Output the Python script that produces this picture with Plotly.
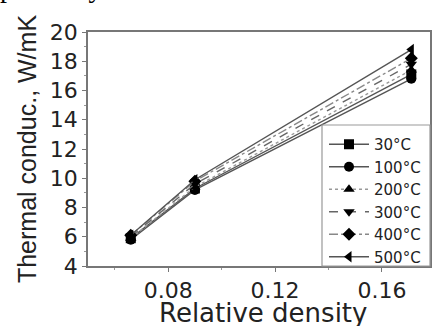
import plotly.graph_objects as go

# Relative density of the samples
density = [0.066, 0.090, 0.171]

# Thermal conductivity (W/mK) at each test temperature
temps = ["30°C", "100°C", "200°C", "300°C", "400°C", "500°C"]
k_30 = [5.9, 9.3, 17.1]
k_100 = [5.8, 9.2, 16.8]
k_200 = [5.9, 9.4, 17.4]
k_300 = [6.0, 9.6, 17.8]
k_400 = [6.1, 9.8, 18.2]
k_500 = [6.1, 9.9, 18.8]
series = [k_30, k_100, k_200, k_300, k_400, k_500]

symbols = ["square", "circle", "triangle-up", "triangle-down", "diamond", "triangle-left"]
dashes = ["solid", "solid", "dot", "dash", "dashdot", "solid"]
line_colors = ["#555", "#555", "#999", "#666", "#888", "#555"]

W, H = 433, 326
L, R, T, B = 88, 3, 32, 60

fig = go.Figure()
for name, vals, sym, dash, lc in zip(temps, series, symbols, dashes, line_colors):
    fig.add_trace(go.Scatter(
        x=density, y=vals, name=name, mode="lines+markers",
        line=dict(color=lc, width=1.4, dash=dash),
        marker=dict(symbol=sym, size=10, color="black"),
    ))

def px_x(px):
    return (px - L) / (W - L - R)

def px_y(py):
    return 1 - (py - T) / (H - T - B)

# legend frame in the lower right corner
fig.add_shape(type="rect", xref="paper", yref="paper",
              x0=px_x(322), x1=1, y0=0, y1=px_y(125),
              line=dict(color="#999", width=1.2), fillcolor="rgba(0,0,0,0)")

# running text of the page above the figure
fig.add_annotation(text="pectively.", xref="paper", yref="paper",
                   x=px_x(-2), y=px_y(5), xanchor="left", yanchor="bottom",
                   showarrow=False,
                   font=dict(family="Liberation Serif", size=28, color="black"))

# x-axis title, set just below the tick labels
fig.add_annotation(text="Relative density", xref="paper", yref="paper",
                   x=px_x(263), y=px_y(313), xanchor="center", yanchor="middle",
                   showarrow=False,
                   font=dict(family="DejaVu Sans", size=26, color="#222"))

axis_font = dict(family="DejaVu Sans", size=22, color="#222")

fig.update_layout(
    width=W, height=H,
    margin=dict(l=L, r=R, t=T, b=B, autoexpand=False),
    paper_bgcolor="white", plot_bgcolor="white",
    showlegend=True,
    legend=dict(x=px_x(324), y=px_y(128), xanchor="left", yanchor="top",
                bgcolor="rgba(0,0,0,0)", borderwidth=0,
                font=dict(family="DejaVu Sans", size=15, color="#222"),
                tracegroupgap=0, itemwidth=40),
    xaxis=dict(range=[0.05, 0.178], tickvals=[0.08, 0.12, 0.16],
               ticktext=["0.08", "0.12", "0.16"], automargin=False,
               showline=True, linecolor="#777", linewidth=1.5, mirror=True,
               ticks="outside", ticklen=4, tickcolor="#777",
               minor=dict(tickvals=[0.06, 0.10, 0.14], ticks="outside",
                          ticklen=2, tickcolor="#999"),
               showgrid=False, zeroline=False, tickfont=axis_font),
    yaxis=dict(range=[4, 20], tickvals=list(range(4, 21, 2)), automargin=False,
               showline=True, linecolor="#777", linewidth=1.5, mirror=True,
               ticks="outside", ticklen=4, tickcolor="#777",
               minor=dict(tickvals=list(range(5, 20, 2)), ticks="outside",
                          ticklen=2, tickcolor="#999"),
               showgrid=False, zeroline=False, tickfont=axis_font,
               title=dict(text="Thermal conduc., W/mK", standoff=6,
                          font=dict(family="Liberation Sans", size=25, color="#222"))),
)

fig.write_html("out.html")
